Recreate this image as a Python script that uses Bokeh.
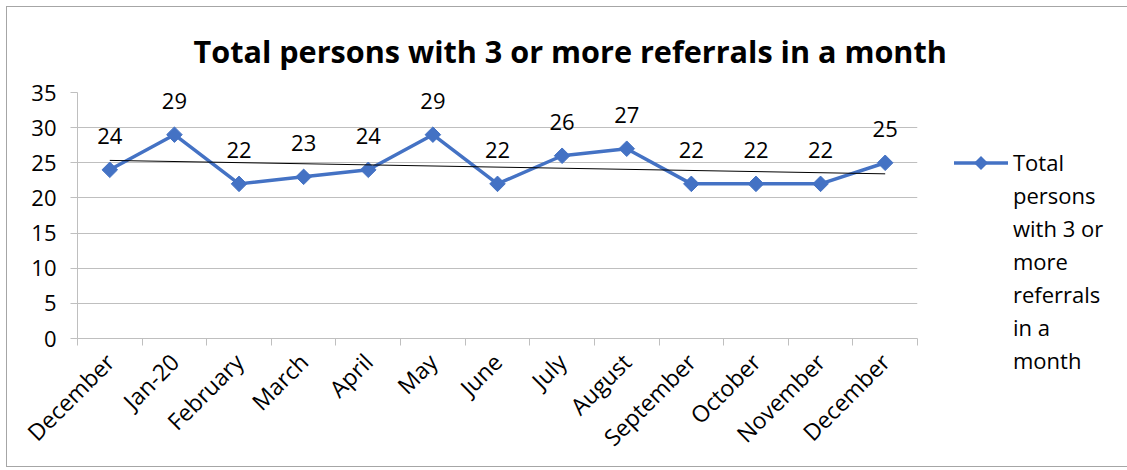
import numpy as np
from bokeh.plotting import figure
from bokeh.layouts import row
from bokeh.models import Range1d, FixedTicker, ColumnDataSource, Div
from bokeh.core.properties import value
from bokeh.embed import file_html
from bokeh.resources import INLINE

months = ["December", "Jan-20", "February", "March", "April", "May", "June",
          "July", "August", "September", "October", "November", "December"]
counts = [24, 29, 22, 23, 24, 29, 22, 26, 27, 22, 22, 22, 25]
y_ticks = [0, 5, 10, 15, 20, 25, 30, 35]
chart_title = "Total persons with 3 or more referrals in a month"
legend_lines = ["Total", "persons", "with 3 or", "more", "referrals", "in a", "month"]

FONT = "Open Sans"
BLUE = "#4472C4"
GRID = "#bfbfbf"

x = np.arange(len(months))
slope, intercept = np.polyfit(x, counts, 1)
trend_x = [float(x[0]), float(x[-1])]
trend_y = [intercept + slope * x[0], intercept + slope * x[-1]]

src = ColumnDataSource(dict(x=x, y=counts, lbl=[str(c) for c in counts]))

p = figure(frame_width=840, frame_height=246, output_backend="svg", toolbar_location=None,
           x_range=Range1d(-0.5, len(months) - 0.5), y_range=Range1d(0, 35),
           min_border_left=70, min_border_right=35, min_border_top=85,
           min_border_bottom=127, title=chart_title)
p.outline_line_color = None

p.title.text_font = FONT
p.title.text_font_size = "30.6px"
p.title.text_font_style = "bold"
p.title.text_color = "black"
p.title.align = "left"
p.title.offset = 116
p.title.standoff = 41

# y axis
p.yaxis.ticker = FixedTicker(ticks=y_ticks)
p.yaxis.axis_line_color = GRID
p.yaxis.major_tick_line_color = GRID
p.yaxis.major_tick_out = 7
p.yaxis.major_tick_in = 0
p.yaxis.minor_tick_line_color = None
p.yaxis.major_label_text_font = FONT
p.yaxis.major_label_text_font_size = "22px"
p.yaxis.major_label_text_color = "black"
p.yaxis.major_label_standoff = 14

# x axis
p.xaxis.ticker = FixedTicker(ticks=list(x), minor_ticks=list(np.arange(-0.5, len(months), 1.0)))
p.xaxis.major_label_overrides = {int(i): m for i, m in enumerate(months)}
p.xaxis.axis_line_color = GRID
p.xaxis.major_tick_line_color = None
p.xaxis.major_tick_out = 0
p.xaxis.major_tick_in = 0
p.xaxis.minor_tick_line_color = GRID
p.xaxis.minor_tick_out = 7
p.xaxis.minor_tick_in = 0
p.xaxis.major_label_orientation = np.pi / 4
p.xaxis.major_label_text_font = FONT
p.xaxis.major_label_text_font_size = "23px"
p.xaxis.major_label_text_color = "black"
p.xaxis.major_label_standoff = 12

p.xgrid.visible = False
p.ygrid.grid_line_color = GRID

p.line("x", "y", source=src, line_color=BLUE, line_width=3.5)
p.scatter("x", "y", source=src, marker="square", angle=np.pi / 4, size=11,
          fill_color=BLUE, line_color=BLUE)
p.line(trend_x, trend_y, line_color="black", line_width=1)

p.text("x", "y", text="lbl", source=src, y_offset=-34, text_align="center",
       text_baseline="middle", text_font=value(FONT), text_font_size="22px",
       text_color="black")

# legend (HTML, to the right of the plot)
legend_html = (
    '<div style="position:relative;width:166px;height:440px;">'
    '<svg width="56" height="18" style="position:absolute;left:-3px;top:142px;">'
    f'<line x1="0" y1="9" x2="54" y2="9" stroke="{BLUE}" stroke-width="3.5"/>'
    f'<polygon points="27,2 34,9 27,16 20,9" fill="{BLUE}"/>'
    '</svg>'
    f'<div style="position:absolute;left:56px;top:134px;font-family:\'{FONT}\';'
    'font-size:22px;line-height:33px;color:black;white-space:nowrap;">'
    + "<br>".join(legend_lines) +
    '</div></div>'
)
legend_div = Div(text=legend_html, width=166, height=440)

layout = row(p, legend_div,
             styles={"border": "1px solid #a6a6a6", "margin": "6px 0 0 6px"})

open("out.html", "w").write(file_html(layout, INLINE))
